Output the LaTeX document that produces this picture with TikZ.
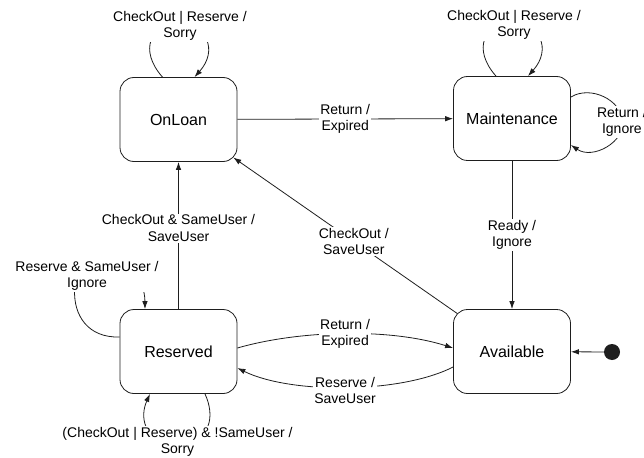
\documentclass[tikz,border=0pt]{standalone}
\usepackage{fontspec}
\setmainfont{Liberation Sans}
\usetikzlibrary{arrows.meta,calc}

\definecolor{ink}{HTML}{1E1E1E}

\tikzset{
  state/.style={draw=ink, line width=0.8pt, rounded corners=14pt,
    minimum width=117pt, minimum height=84pt, inner sep=0pt,
    font=\fontsize{16}{19}\selectfont},
  lbl/.style={fill=white, inner sep=1pt, align=center,
    font=\fontsize{14}{16.5}\selectfont},
  arr/.style={draw=ink, line width=0.8pt, -{Latex[length=8pt,width=5.5pt]}},
  initdot/.style={circle, fill=ink, minimum size=16pt, inner sep=0pt}
}

\begin{document}
\begin{tikzpicture}[x=1pt, y=-1pt]
  \useasboundingbox (0,0) rectangle (644,457);

  % states
  \node[state] (onloan)   at (178.5,119.5) {OnLoan};
  \node[state] (maint)    at (512,118.5)   {Maintenance};
  \node[state] (reserved) at (178.5,351.5) {Reserved};
  \node[state] (avail)    at (512,351.5)   {Available};
  \node[initdot] (init)   at (612,352)     {};

  % initial transition
  \draw[arr] (init) -- (avail);

  % straight transitions
  \draw[arr] (onloan) -- node[lbl] {Return /\\Expired} (maint);
  \draw[arr] (maint) -- node[lbl] {Ready /\\Ignore} (avail);
  % corner to corner: extend past the sharp corners onto the rounded ones
  \draw[arr, shorten <=-5pt, shorten >=-5pt] (avail) --
    node[lbl, pos=0.46] {CheckOut /\\SaveUser} (onloan);
  \draw[arr] (reserved) --
    node[lbl, pos=0.55] {CheckOut \& SameUser /\\SaveUser} (onloan);

  % curved transitions between Reserved and Available
  \draw[arr] ([yshift=3.5pt]reserved.east)
    .. controls (300,330) and (390,328) ..
    node[lbl] {Return /\\Expired} ([yshift=3.5pt]avail.west);
  \draw[arr] ([yshift=-15.5pt]avail.west)
    .. controls (400,394) and (290,394) ..
    node[lbl, yshift=-3pt] {Reserve /\\SaveUser} ([yshift=-16.5pt]reserved.east);

  % self loop on OnLoan
  \draw[arr] ([xshift=-16pt]onloan.north)
    .. controls ($(onloan.north)+(-40,-27)$) and ($(onloan.north)+(-28,-53)$) ..
    ($(onloan.north)+(0,-53)$)
    .. controls ($(onloan.north)+(28,-53)$) and ($(onloan.north)+(40,-27)$) ..
    ([xshift=16pt]onloan.north);
  \node[lbl] (l1) at ($(onloan.north)+(1.5,-51)$) {CheckOut | Reserve /\\Sorry};

  % self loop on Maintenance (top)
  \draw[arr] ([xshift=-16pt]maint.north)
    .. controls ($(maint.north)+(-40,-27)$) and ($(maint.north)+(-28,-53)$) ..
    ($(maint.north)+(0,-53)$)
    .. controls ($(maint.north)+(28,-53)$) and ($(maint.north)+(40,-27)$) ..
    ([xshift=16pt]maint.north);
  \node[lbl] (l2) at ($(maint.north)+(2,-51)$) {CheckOut | Reserve /\\Sorry};

  % self loop on Maintenance (right)
  \draw[arr] ([yshift=21.5pt]maint.east)
    .. controls ($(maint.east)+(20,-33.5)$) and ($(maint.east)+(50,-18.5)$) ..
    ($(maint.east)+(52,2.5)$)
    .. controls ($(maint.east)+(54,23.5)$) and ($(maint.east)+(22,41.5)$) ..
    ([yshift=-26.5pt]maint.east);
  \node[lbl] (l3) at ($(maint.east)+(51,3.5)$) {Return /\\Ignore};

  % self loop on Reserved (left)
  \draw[arr] ([yshift=14.5pt]reserved.west)
    .. controls ($(reserved.west)+(-32,-13.5)$) and ($(reserved.west)+(-46,-36.5)$) ..
    ($(reserved.west)+(-45,-61.5)$)
    .. controls ($(reserved.west)+(-44,-101.5)$) and ($(reserved.west)+(25,-96.5)$) ..
    ([xshift=-33.5pt]reserved.north);
  \node[lbl] (l4) at (87,276) {Reserve \& SameUser /\\Ignore};

  % self loop on Reserved (bottom)
  \draw[arr] ([xshift=26.5pt]reserved.south)
    .. controls ($(reserved.south)+(36.5,22)$) and ($(reserved.south)+(33.5,47)$) ..
    ($(reserved.south)+(-1.5,52)$)
    .. controls ($(reserved.south)+(-36.5,47)$) and ($(reserved.south)+(-38.5,22)$) ..
    ([xshift=-28.5pt]reserved.south);
  \node[lbl] (l5) at (177.5,442) {(CheckOut | Reserve) \& !SameUser /\\Sorry};
\end{tikzpicture}
\end{document}
